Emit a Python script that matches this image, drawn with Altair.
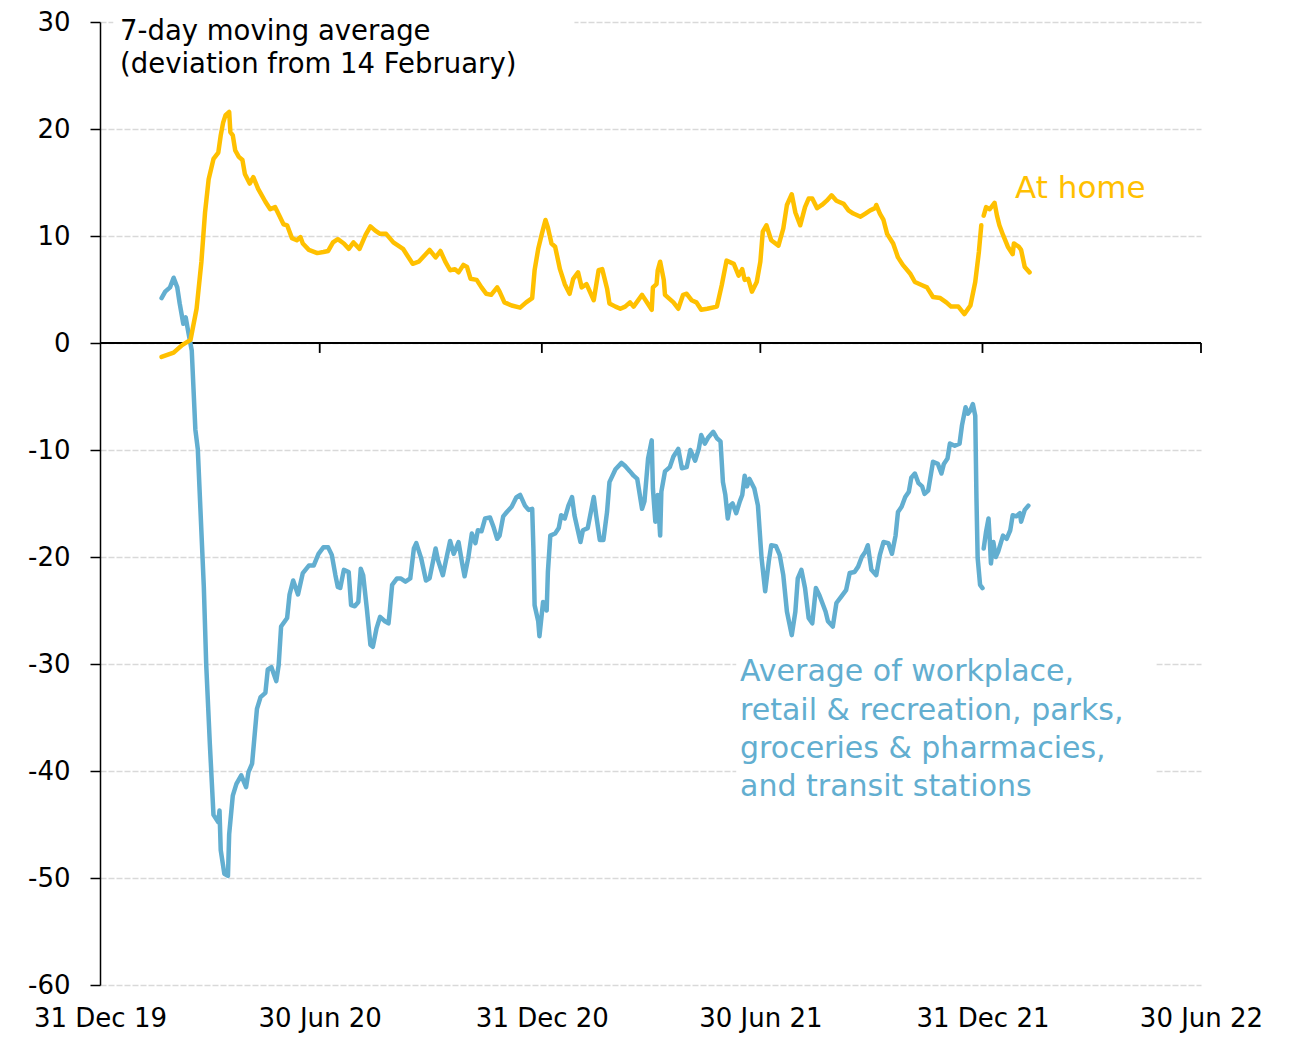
import altair as alt
import pandas as pd

# x values are days since 31 Dec 2019
home_days_1 = [51, 61, 68, 75, 80, 84, 87, 90, 94, 98, 100, 102, 104, 107, 108, 110, 112, 115, 118, 120,
               124, 127, 131, 137, 141, 145, 149, 152, 155, 159, 163, 166, 168, 173, 180, 185, 189, 193, 197, 202,
               206, 210, 215, 220, 224, 228, 232, 237, 243, 251, 259, 264, 269, 273, 278, 282, 286, 290, 294, 297,
               301, 304, 307, 312, 316, 320, 324, 329, 331, 335, 341, 348, 353, 358, 360, 363, 366, 369, 371, 374,
               377, 381, 385, 389, 392, 396, 399, 403, 409, 413, 416, 420, 422, 427, 431, 435, 439, 442, 449, 453,
               457, 458, 461, 462, 464, 467, 468, 475, 479, 483, 486, 490, 494, 498, 503, 511, 515, 519, 525, 529,
               532, 534, 537, 540, 544, 547, 549, 552, 556, 562, 566, 569, 573, 576, 580, 584, 587, 590, 594, 598,
               602, 606, 610, 616, 620, 624, 630, 634, 638, 642, 643, 646, 649, 652, 657, 661, 665, 671, 675, 681,
               685, 690, 696, 701, 705, 711, 716, 721, 725, 728, 730]
home_vals_1 = [-1.3, -0.9, -0.2, 0.3, 3.2, 7.6, 12.2, 15.3, 17.2, 17.8, 19.4, 20.6, 21.3, 21.6, 19.7, 19.4, 18.0, 17.4, 17.1, 15.8,
               14.9, 15.5, 14.4, 13.2, 12.5, 12.7, 11.8, 11.1, 11.0, 9.8, 9.6, 9.9, 9.3, 8.7, 8.4, 8.5, 8.6, 9.4, 9.7, 9.3,
               8.8, 9.4, 8.8, 10.1, 10.9, 10.5, 10.2, 10.2, 9.4, 8.8, 7.4, 7.6, 8.2, 8.7, 8.0, 8.6, 7.6, 6.8, 6.9, 6.6,
               7.3, 7.1, 6.0, 5.9, 5.2, 4.6, 4.5, 5.2, 4.8, 3.8, 3.5, 3.3, 3.8, 4.2, 6.8, 8.8, 10.2, 11.5, 10.8, 9.3,
               9.0, 6.9, 5.5, 4.6, 6.0, 6.6, 5.2, 5.5, 4.0, 6.8, 6.9, 5.1, 3.7, 3.4, 3.2, 3.4, 3.8, 3.4, 4.5, 3.8,
               3.1, 5.2, 5.5, 6.8, 7.6, 5.9, 4.5, 3.8, 3.2, 4.5, 4.6, 4.0, 3.8, 3.1, 3.2, 3.4, 5.4, 7.7, 7.4, 6.3,
               6.9, 5.9, 6.0, 4.8, 5.7, 7.6, 10.4, 11.0, 9.6, 9.1, 10.7, 12.9, 13.9, 12.2, 11.0, 12.7, 13.5, 13.5, 12.6, 12.9,
               13.3, 13.8, 13.3, 13.0, 12.4, 12.1, 11.8, 12.1, 12.4, 12.6, 12.9, 12.1, 11.5, 10.2, 9.3, 8.0, 7.3, 6.5, 5.7, 5.4,
               5.2, 4.3, 4.2, 3.8, 3.4, 3.4, 2.7, 3.5, 5.7, 8.5, 11.0]
home_days_2 = [732, 734, 737, 741, 743, 745, 748, 752, 756, 757, 761, 763, 766, 770]
home_vals_2 = [11.9, 12.7, 12.5, 13.1, 11.9, 11.0, 10.1, 9.0, 8.3, 9.3, 9.0, 8.7, 7.1, 6.6]

mob_days_1 = [51, 54, 58, 61, 64, 66, 69, 71, 73, 76, 79, 81, 86, 88, 91, 94, 98, 99, 100, 103,
              106, 107, 110, 113, 117, 121, 123, 126, 130, 133, 137, 139, 142, 146, 148, 150, 155, 157, 160, 164,
              168, 173, 177, 181, 185, 189, 192, 195, 197, 199, 202, 206, 208, 211, 214, 216, 218, 221, 224, 226,
              229, 232, 236, 239, 240, 242, 246, 249, 253, 257, 260, 262, 266, 270, 273, 278, 280, 284, 287, 290,
              293, 297, 300, 302, 305, 308, 311, 313, 316, 319, 323, 326, 329, 331, 334, 337, 341, 345, 348, 352,
              355, 358, 359, 360, 363, 364, 367, 370, 371, 373, 377, 380, 382, 385, 388, 391, 393, 398, 400, 404,
              409, 411, 414, 417, 420, 422, 427, 432, 435, 439, 442, 445, 449, 451, 454, 457, 458, 460, 462, 464,
              465, 468, 472, 475, 479, 482, 486, 489, 493, 496, 498, 501, 504, 508, 511, 514, 516, 518, 520, 522,
              524, 527, 530, 532, 534, 536, 538, 542, 545, 548, 551, 554, 556, 560, 563, 566, 569, 573, 576, 578,
              581, 584, 587, 590, 593, 596, 601, 603, 607, 610, 614, 618, 621, 625, 628, 631, 634, 636, 639, 643,
              646, 649, 653, 656, 659, 661, 664, 667, 670, 672, 675, 678, 681, 683, 686, 690, 694, 697, 699, 702,
              704, 708, 712, 714, 717, 719, 721, 723, 725, 726, 727, 729, 731]
mob_vals_1 = [4.2, 4.8, 5.2, 6.1, 5.2, 3.7, 1.8, 2.4, 1.1, -0.7, -8.1, -9.9, -22.8, -30.1, -37.5, -44.1, -44.8, -43.7, -47.4, -49.6,
              -49.8, -45.9, -42.3, -41.2, -40.4, -41.5, -40.1, -39.3, -34.2, -33.1, -32.7, -30.5, -30.3, -31.6, -30.1, -26.5, -25.7, -23.5, -22.2, -23.5,
              -21.5, -20.8, -20.8, -19.7, -19.1, -19.1, -19.8, -21.7, -22.8, -22.9, -21.2, -21.4, -24.5, -24.6, -24.2, -21.1, -21.7, -24.8, -28.2, -28.4,
              -26.7, -25.6, -26.0, -26.2, -25.1, -22.6, -22.0, -22.0, -22.3, -22.0, -19.2, -18.7, -20.1, -22.2, -22.0, -19.2, -20.3, -21.7, -20.1, -18.5,
              -19.7, -18.6, -20.6, -21.8, -20.1, -17.8, -18.7, -17.5, -17.6, -16.4, -16.3, -17.2, -18.3, -18.0, -16.2, -15.8, -15.3, -14.4, -14.2, -15.2,
              -15.6, -15.5, -19.2, -24.5, -26.0, -27.4, -24.2, -25.0, -21.4, -18.0, -17.8, -17.3, -16.1, -16.4, -15.2, -14.4, -16.1, -18.6, -17.5, -17.3,
              -14.4, -16.1, -18.4, -18.4, -15.8, -13.0, -11.8, -11.2, -11.5, -12.0, -12.4, -12.7, -15.5, -14.8, -10.8, -9.1, -13.6, -16.7, -14.2, -18.0,
              -13.9, -12.0, -11.6, -10.6, -9.9, -11.7, -11.6, -10.0, -11.0, -9.9, -8.6, -9.4, -8.8, -8.3, -8.9, -9.2, -13.0, -14.2, -16.4, -15.2,
              -15.0, -15.9, -14.8, -14.2, -12.4, -13.4, -12.7, -13.6, -15.2, -20.1, -23.2, -20.4, -18.9, -19.0, -19.8, -21.7, -25.1, -27.3, -25.1, -22.0,
              -21.2, -22.9, -25.7, -26.2, -22.9, -23.6, -25.1, -26.0, -26.5, -24.3, -23.7, -23.1, -21.5, -21.4, -20.9, -20.0, -19.5, -18.9, -21.2, -21.7,
              -19.8, -18.6, -18.7, -19.7, -18.0, -15.8, -15.3, -14.4, -13.9, -12.6, -12.2, -13.1, -13.4, -14.1, -13.8, -11.1, -11.3, -12.2, -11.3, -10.8,
              -9.4, -9.6, -9.4, -7.7, -6.0, -6.6, -6.3, -5.7, -6.8, -14.5, -20.1, -22.6, -22.9]
mob_days_2 = [732, 734, 736, 737, 738, 740, 742, 744, 748, 751, 754, 756, 759, 762, 763, 766, 769]
mob_vals_2 = [-19.2, -17.6, -16.4, -18.3, -20.6, -18.6, -20.0, -19.5, -18.0, -18.3, -17.5, -16.1, -16.2, -15.9, -16.7, -15.6, -15.2]

tick_days = [0, 182, 366, 547, 731, 912]
tick_labels = ["31 Dec 19", "30 Jun 20", "31 Dec 20", "30 Jun 21", "31 Dec 21", "30 Jun 22"]
y_ticks = [-60, -50, -40, -30, -20, -10, 0, 10, 20, 30]

series_names = ["At home", "Mobility"]
series_colors = ["#FFC000", "#62AED0"]

title_lines = ["7-day moving average", "(deviation from 14 February)"]
title_vals = [29.04, 25.95]
title_day = 16.6
mob_lines = ["Average of workplace,", "retail & recreation, parks,",
             "groceries & pharmacies,", "and transit stations"]
mob_line_vals = [-30.78, -34.42, -37.97, -41.52]
mob_label_day = 530.2
home_label = "At home"
home_label_day = 758
home_label_val = 14.41

FONT = "DejaVu Sans"

rows = []
for name, seg, days, vals in [
    ("Mobility", "m1", mob_days_1, mob_vals_1),
    ("Mobility", "m2", mob_days_2, mob_vals_2),
    ("At home", "h1", home_days_1, home_vals_1),
    ("At home", "h2", home_days_2, home_vals_2),
]:
    for d, v in zip(days, vals):
        rows.append({"day": d, "value": v, "series": name, "seg": seg})
df = pd.DataFrame(rows)

label_expr = " : ".join(f"datum.value == {d} ? '{l}'" for d, l in zip(tick_days, tick_labels)) + " : ''"

x_enc = alt.X("day:Q", scale=alt.Scale(domain=[tick_days[0], tick_days[-1]], nice=False, zero=False),
              axis=alt.Axis(values=tick_days, labelExpr=label_expr, title=None, grid=False, ticks=False,
                            domain=False, labelFontSize=26, labelFont=FONT, labelColor="black",
                            labelPadding=20, labelFlush=False, labelOverlap=False))
y_enc = alt.Y("value:Q", scale=alt.Scale(domain=[y_ticks[0], y_ticks[-1]], nice=False, zero=False),
              axis=alt.Axis(values=y_ticks, title=None, grid=True, gridColor="#d9d9d9", gridDash=[6, 2],
                            gridWidth=1.5, domain=True, domainColor="black", domainWidth=1.5,
                            tickColor="black", tickSize=10, tickWidth=1.5, labelFontSize=26,
                            labelFont=FONT, labelColor="black", labelPadding=20,
                            labelExpr="'' + datum.value"))

lines = alt.Chart(df).mark_line(strokeWidth=4.5, strokeJoin="round", strokeCap="round").encode(
    x=x_enc, y=y_enc,
    color=alt.Color("series:N", scale=alt.Scale(domain=series_names, range=series_colors), legend=None),
    detail="seg:N",
)

boxes = pd.DataFrame({
    "x1": [11, 527], "x2": [393, 875], "y1": [31, -29], "y2": [27.5, -43],
})
bg = alt.Chart(boxes).mark_rect(color="white").encode(x="x1:Q", x2="x2:Q", y="y1:Q", y2="y2:Q")

zero_df = pd.DataFrame({"x1": [tick_days[0]], "x2": [tick_days[-1]], "y": [0]})
zero_rule = alt.Chart(zero_df).mark_rule(color="black", strokeWidth=1.8).encode(
    x="x1:Q", x2="x2:Q", y="y:Q")

tick_df = pd.DataFrame({"day": tick_days[1:], "y1": [0] * 5, "y2": [-0.93] * 5})
ticks = alt.Chart(tick_df).mark_rule(color="black", strokeWidth=1.8).encode(
    x="day:Q", y="y1:Q", y2="y2:Q")

title_df = pd.DataFrame({"text": title_lines, "value": title_vals, "day": [title_day] * 2})
title_txt = alt.Chart(title_df).mark_text(align="left", baseline="middle", fontSize=27.5, font=FONT,
                                          color="black").encode(x="day:Q", y="value:Q", text="text:N")

mob_df = pd.DataFrame({"text": mob_lines, "value": mob_line_vals, "day": [mob_label_day] * 4})
mob_txt = alt.Chart(mob_df).mark_text(align="left", baseline="middle", fontSize=30, font=FONT,
                                      color=series_colors[1]).encode(x="day:Q", y="value:Q", text="text:N")

home_df = pd.DataFrame({"text": [home_label], "value": [home_label_val], "day": [home_label_day]})
home_txt = alt.Chart(home_df).mark_text(align="left", baseline="middle", fontSize=31, font=FONT,
                                        color=series_colors[0]).encode(x="day:Q", y="value:Q", text="text:N")

chart = alt.layer(bg, zero_rule, ticks, lines, title_txt, mob_txt, home_txt).properties(
    width=1101, height=963,
    background="white",
    autosize=alt.AutoSizeParams(type="none"),
    padding={"left": 92, "top": 14, "right": 96, "bottom": 50},
).configure_view(strokeWidth=0, stroke="transparent")

chart.save("out.html", embed_options={"renderer": "svg", "actions": False})
